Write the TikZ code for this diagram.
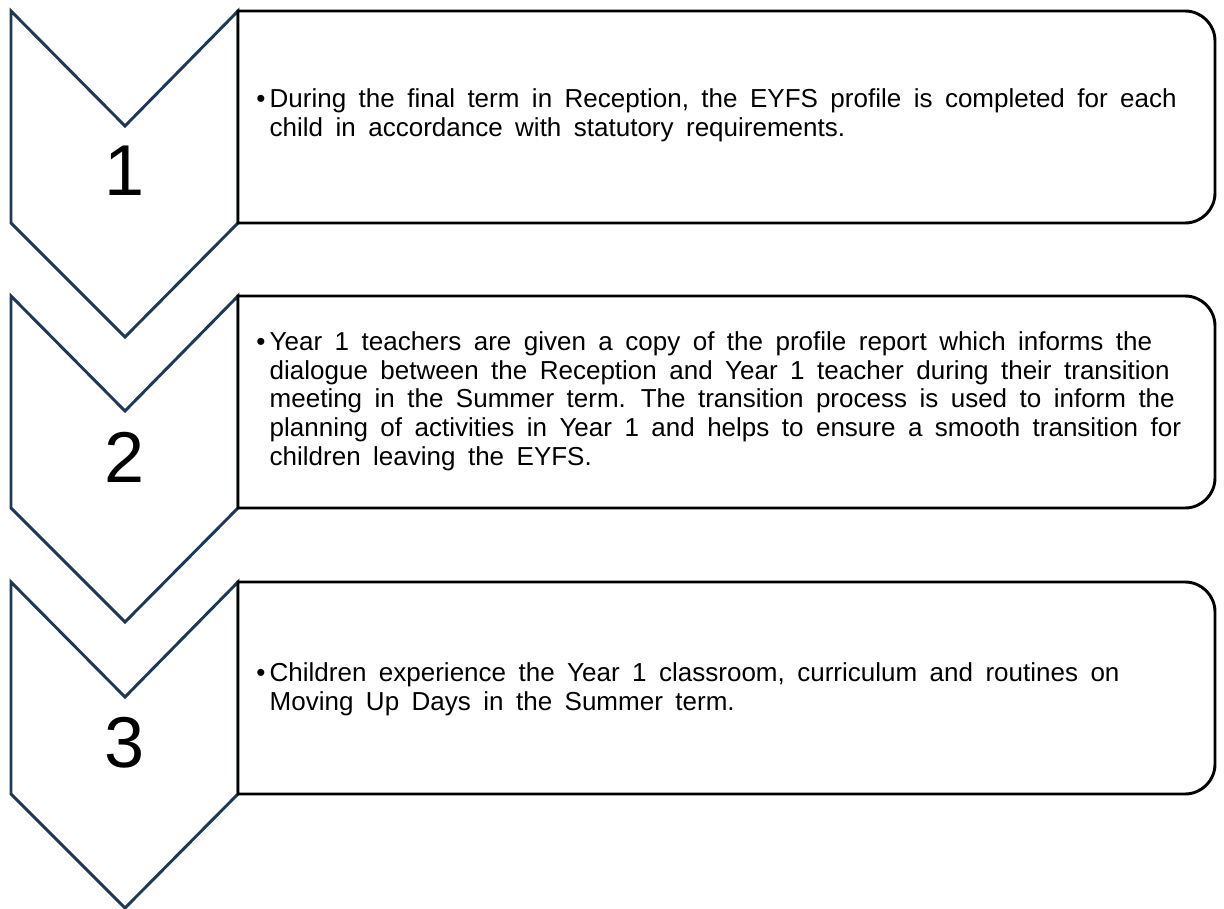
\documentclass[tikz,border=0pt]{standalone}
\usepackage{fontspec}
\setmainfont{Liberation Sans}
\definecolor{chevblue}{RGB}{31,56,86}
\newcommand{\infofont}{\fontsize{19.5}{21.5}\selectfont\spaceskip 0.48em\relax}
\tikzset{
  chevron/.style={draw=chevblue, line width=2.2pt, fill=white},
  stepbox/.style={draw=black, line width=2.2pt, fill=white},
  num/.style={font=\fontsize{54}{60}\selectfont},
  info/.style={anchor=west, inner sep=0pt, font=\infofont},
}
\begin{document}
\begin{tikzpicture}[x=0.75pt, y=-0.75pt]
    \useasboundingbox (0,0) rectangle (1224,909);
    % chevrons and boxes
    \foreach \t in {11, 296, 582} {
        \draw[chevron] (11,\t) -- (125,\t+115) -- (238,\t) -- (238,\t+212)
            -- (125,\t+326) -- (11,\t+212) -- cycle;
        \draw[stepbox] (238,\t) -- (1185,\t) arc (-90:0:30)
            -- (1215,\t+182) arc (0:90:30) -- (238,\t+212) -- cycle;
    }
    \node[num] (n1) at (125,171) {1};
    \node[num] (n2) at (125,457) {2};
    \node[num] (n3) at (125,743) {3};

    \node[info] (t1) at (256,116) {\begin{tabular}{@{}l@{\,}l@{}}
        \textbullet & During the final term in Reception, the EYFS profile is completed for each\\
        & child in accordance with statutory requirements.
    \end{tabular}};
    \node[info] (t2) at (256,402) {\begin{tabular}{@{}l@{\,}l@{}}
        \textbullet & Year 1 teachers are given a copy of the profile report which informs the\\
        & dialogue between the Reception and Year 1 teacher during their transition\\
        & meeting in the Summer term. The transition process is used to inform the\\
        & planning of activities in Year 1 and helps to ensure a smooth transition for\\
        & children leaving the EYFS.
    \end{tabular}};
    \node[info] (t3) at (256,690) {\begin{tabular}{@{}l@{\,}l@{}}
        \textbullet & Children experience the Year 1 classroom, curriculum and routines on\\
        & Moving Up Days in the Summer term.
    \end{tabular}};
\end{tikzpicture}
\end{document}
